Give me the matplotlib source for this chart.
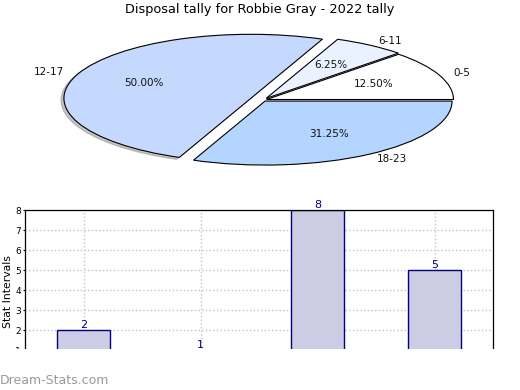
import matplotlib
matplotlib.use("Agg")
import matplotlib.pyplot as plt
from matplotlib.patches import Shadow, Rectangle

# Data
pie_labels = ["0-5", "6-11", "12-17", "18-23"]
pie_values = [2, 1, 8, 5]
pie_colors = ["#ffffff", "#eaf2ff", "#c5d8fe", "#b3d5ff"]
pie_explode = [0.02, 0.03, 0.07, 0.02]

bar_values = [2, 1, 8, 5]
bar_positions = [0, 1, 2, 3]
y_ticks = [1, 2, 3, 4, 5, 6, 7, 8]

title = "Disposal tally for Robbie Gray - 2022 tally"

fig = plt.figure(figsize=(5.2, 3.9), dpi=100)
W, H = 520, 390

# Pie (flattened ellipse)
RX, RY = 187, 64
cx, cy = 263, 100
px0, px1 = cx - 225, cx + 225
py0, py1 = cy - 70, cy + 70
axp = fig.add_axes([px0 / W, 1 - py1 / H, (px1 - px0) / W, (py1 - py0) / H])
wedges, texts, autotexts = axp.pie(
    pie_values, labels=pie_labels, colors=pie_colors, explode=pie_explode,
    startangle=0, counterclock=True, autopct="%.2f%%", pctdistance=0.62,
    labeldistance=1.08, wedgeprops=dict(edgecolor="black", linewidth=0.8),
    textprops=dict(fontsize=7.5, color="#111111"))
axp.set_aspect("auto")
axp.set_xlim(-225 / RX, 225 / RX)
axp.set_ylim(-70 / RY, 70 / RY)
axp.axis("off")
sh = Shadow(wedges[2], -0.011, -0.022)
sh.set_facecolor("#8a8a8a")
sh.set_edgecolor("#8a8a8a")
sh.set_zorder(wedges[2].get_zorder() - 0.5)
axp.add_patch(sh)

fig.text(0.5, 1 - 10 / H, title, ha="center", va="center", fontsize=9.3)

# Bar chart
axb = fig.add_axes([25 / W, 1 - 350 / H, 468 / W, 140 / H])
axb.bar(bar_positions, bar_values, width=0.45, color="#ccccE4",
        edgecolor="#000080", linewidth=1.0, zorder=2)
for x, v in zip(bar_positions, bar_values):
    axb.text(x, v, str(v), ha="center", va="bottom", color="#000080",
             fontsize=8, zorder=3)
axb.set_xlim(-0.5, 3.5)
axb.set_ylim(1, 8)
axb.set_yticks(y_ticks)
axb.set_xticks(bar_positions)
axb.set_xticklabels([])
axb.tick_params(axis="x", length=0)
axb.tick_params(axis="y", labelsize=6.5, length=1.5, pad=1.5)
axb.grid(True, color="#c4c4c4", linestyle=":", linewidth=1.0, zorder=0)
axb.set_axisbelow(True)
axb.set_ylabel("Stat Intervals", fontsize=7.8)
axb.yaxis.set_label_coords(-0.026, 0.42)
axb.spines["bottom"].set_visible(False)
for s in axb.spines.values():
    s.set_linewidth(0.9)

# crop-like white band below the plot area
fig.patches.append(Rectangle((0, 0), 1, 41 / H, transform=fig.transFigure,
                             facecolor="white", edgecolor="none", zorder=10))

fig.text(0.0, 1 - 380 / H, "Dream-Stats.com", ha="left", va="center",
         fontsize=9, color="#999999", zorder=11)

fig.savefig("out.png", dpi=100)
